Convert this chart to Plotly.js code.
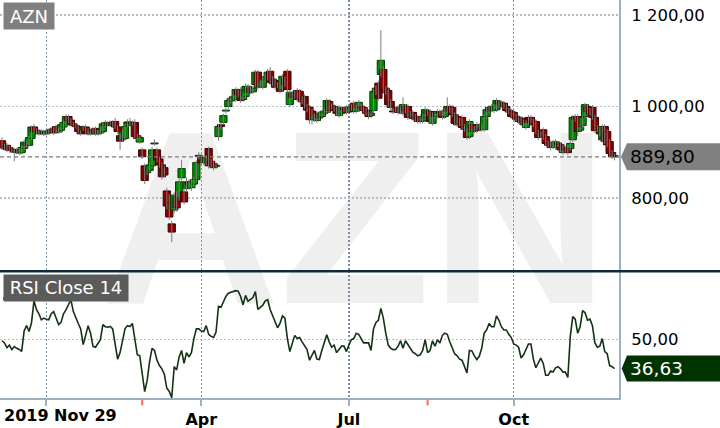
<!DOCTYPE html>
<html><head><meta charset="utf-8">
<script src="https://cdn.plot.ly/plotly-3.0.1.min.js"></script>
<style>html,body{margin:0;padding:0;background:#fff}#chart{width:720px;height:428px}</style>
</head><body><div id="chart"></div>
<script>
const symbol = 'AZN';
const rsiLabel = 'RSI Close 14';
const tickIdx = [18, 81, 141, 208];
const tickLabels = ['2019 Nov 29', 'Apr', 'Jul', 'Oct'];
const priceTicks = [800, 1000, 1200];
const rsiTicks = [50];
const dividendIdx = [57, 173];

const openP = [
925,913,915,910,906,904,900,905,899,908,
920,915,930,955,948,944,941,945,940,946,
944,952,956,944,948,955,960,978,970,962,
958,956,944,950,955,948,940,950,952,940,
942,945,958,964,960,966,967,955,936,928,
930,958,966,962,965,936,922,905,870,855,
860,870,918,905,885,872,866,815,789,743,
773,802,800,844,813,820,835,822,830,840,
891,888,878,877,908,880,875,869,934,960,
965,990,1000,1012,1018,1015,1035,1037,1015,1022,
1030,1040,1032,1048,1075,1045,1042,1058,1062,1077,
1060,1057,1048,1055,1037,1060,1077,1004,1028,1022,
1035,1033,1018,1022,1000,998,990,972,969,985,
978,985,987,1011,998,1000,995,980,985,996,
998,988,995,1007,990,996,1000,998,992,989,
980,991,1030,1051,1070,1081,1040,1035,1011,990,
992,998,988,985,1000,1000,980,987,978,976,
978,968,976,990,989,963,980,978,988,989,
978,991,1000,998,982,978,962,976,956,949,
934,960,946,960,952,955,949,978,990,1000,
991,993,1010,1002,1007,1000,992,989,987,978,
976,974,966,954,976,976,968,967,943,936,
949,934,920,921,912,910,920,916,899,908,
910,908,927,978,978,948,958,978,1000,992,
998,976,954,950,927,956,945,923,899,892];

const highP = [
932,918,920,914,911,908,910,909,914,928,
924,936,958,962,952,948,950,949,951,950,
955,956,960,954,964,969,983,982,974,966,
962,960,948,959,960,952,950,954,956,948,
954,966,970,968,969,970,975,959,940,950,
960,972,975,969,972,940,936,910,875,862,
878,912,928,910,890,877,870,822,808,750,
812,815,842,883,822,845,840,842,846,882,
900,895,887,893,912,885,880,876,960,966,
984,998,1018,1023,1027,1042,1040,1042,1030,1050,
1049,1046,1045,1080,1080,1056,1065,1070,1082,1086,
1066,1062,1053,1060,1071,1065,1082,1036,1033,1035,
1040,1038,1023,1027,1005,1003,995,985,990,990,
992,995,1018,1016,1007,1005,1000,1003,1000,1001,
1003,1000,1005,1012,1003,1014,1005,1003,997,994,
990,1038,1046,1056,1167,1088,1045,1040,1016,995,
1000,1003,998,1020,1005,1005,990,992,983,981,
983,980,998,995,994,987,985,994,993,994,
995,1020,1005,1003,987,983,975,981,961,954,
972,965,957,965,963,960,983,998,1003,1005,
1005,1018,1015,1013,1012,1005,997,994,992,983,
981,979,971,970,981,981,973,972,948,945,
954,939,925,926,926,928,925,921,915,913,
915,924,981,983,983,960,981,1008,1005,997,
1003,981,959,955,961,961,950,928,904,896];

const lowP = [
905,903,900,899,900,880,895,893,895,904,
911,912,926,941,939,936,937,935,936,940,
940,938,940,940,944,951,956,963,957,954,
952,941,936,946,941,936,936,940,936,936,
938,941,954,956,956,954,951,940,905,924,
926,954,958,958,930,925,918,885,830,850,
856,866,914,878,866,840,844,775,752,703,
766,770,794,838,785,812,820,815,824,835,
884,870,872,871,864,866,860,864,925,950,
960,984,995,1007,1013,1010,1020,1008,1010,1017,
1025,1027,1027,1043,1037,1040,1037,1053,1057,1048,
1045,1037,1040,1028,1032,1043,1030,998,1015,1017,
1010,1010,1005,995,987,962,960,966,964,970,
973,980,982,986,993,989,980,975,980,987,
982,983,990,984,985,991,991,986,980,972,
975,986,1025,1013,1065,1030,1025,999,993,983,
987,982,983,980,985,970,975,969,967,962,
962,963,971,980,962,958,973,973,980,971,
973,986,986,977,958,955,957,949,945,927,
929,940,941,942,947,945,944,973,985,987,
986,988,1000,997,995,986,983,973,971,967,
962,960,955,949,960,962,955,940,927,931,
927,914,910,904,907,905,911,900,894,899,
894,903,922,967,935,943,953,973,984,980,
971,942,944,935,922,918,911,892,885,882];

const closeP = [
912,908,906,904,905,900,905,898,910,922,
915,932,955,945,944,940,946,940,946,944,
950,942,944,950,960,965,978,968,962,958,
956,945,940,955,945,940,946,944,940,944,
950,962,965,960,964,958,955,945,924,945,
956,966,962,965,934,930,932,890,838,858,
872,905,920,883,872,846,850,782,758,725,
806,778,835,864,791,835,828,836,840,877,
893,877,882,888,870,872,866,871,956,956,
980,992,1013,1018,1022,1037,1025,1013,1025,1044,
1044,1032,1040,1075,1042,1050,1060,1065,1075,1053,
1050,1042,1045,1033,1066,1048,1037,1031,1020,1030,
1015,1015,1010,1000,992,971,971,980,985,975,
987,990,1013,991,1002,994,985,998,995,992,
987,995,1000,989,998,1009,996,991,985,978,
985,1033,1040,1018,1101,1035,1030,1004,998,988,
995,987,993,1004,990,976,985,974,972,967,
967,975,993,985,967,982,978,989,985,976,
990,1000,991,982,963,960,970,954,950,932,
967,945,952,947,958,950,978,993,998,992,
1000,1013,1005,1008,1000,991,988,978,976,972,
967,965,960,965,965,967,960,945,932,940,
932,919,915,910,921,923,916,905,910,904,
899,919,976,972,945,955,976,1004,989,985,
976,947,949,940,956,923,916,897,890,889.8];

const rsi = [
49.5,48.5,46.3,47.5,45.4,46.8,46.0,45.5,44.6,54,
56.5,53.8,57.8,68,64,62,59.2,60,59.5,59.2,
62,63,60,57,58,62,63.8,66.5,68.5,63,
60,57.5,55,47.7,52,56.5,53,46.9,46.5,48,
50,57,56,55.8,56.1,55,47,41,44,50,
55,56.5,56.1,57.5,50,43,42.5,34,26,31,
40,46,45,40.5,38,36.5,34,27.5,26,23.1,
37.5,36,42,45,39,44,42,44,50.5,55,
55,54,53.8,56.5,52.5,51.5,51,53.5,65.4,65,
67.5,70,71.5,72,72.3,72.7,72.5,70,66.1,70.5,
67.8,68.5,69.5,72.3,64,65,66,68,68.5,64,
61,58,55.5,57.5,61,60,50.5,44.5,48,52,
50.5,51,49,47,45.4,40.5,43,45,41,40.8,
45,49,52.3,49,46.5,47.5,44,45.5,47,47,
44.5,47.5,50,50.5,53,52.5,50.5,48.5,48.5,48.5,
45,55,58,59,64.5,60,53,47.5,46,45.4,
45.5,47,49.5,46,49.5,47.5,45.5,44.2,43.5,42.5,
43,45,50,44,45,49.5,47,50,48.5,52,
53,52.5,49,46.5,43.5,42.5,41,40.5,37,34.6,
45,44.8,42.5,40.8,42.3,46,53,54.5,57.5,56,
56,61,59,56,54.5,54.5,52.5,51,48,47.5,
46.5,41.5,43,45.5,48,48,41,37,39,41.5,
39,33.5,33.5,35.5,35,37,37.5,36.5,35,35,
32.5,51.5,60.7,59.5,53,56,63.5,62.5,59,59.5,
56.5,48.5,46.5,47,50.5,44.5,43.5,38,37.5,36.63];

// ---- build traces ----
const n = closeP.length;
const idx = Array.from({length: n}, (_, i) => i);
const isUp = idx.map(i => closeP[i] >= openP[i]);
const wickX = [], wickY = [];
idx.forEach(i => { wickX.push(i, i, null); wickY.push(lowP[i], highP[i], null); });
const bodyBase = idx.map(i => Math.min(openP[i], closeP[i]));
const bodyH = idx.map(i => Math.max(Math.abs(closeP[i] - openP[i]), 1.5));

const W = 720, H = 428;
const axisX = 619 / W;
const px = v => v / W;
const py = v => 1 - v / H;
const lastClose = closeP[n - 1];
const lastRsi = rsi[n - 1];
const fmt = v => v.toFixed(2).replace('.', ',');

const traces = [
  {type: 'scatter', mode: 'lines', x: wickX, y: wickY, xaxis: 'x', yaxis: 'y',
   line: {color: '#7d7d7d', width: 1}, hoverinfo: 'skip', connectgaps: false},
  {type: 'bar', x: idx, y: bodyH, base: bodyBase, width: 2.95, xaxis: 'x', yaxis: 'y',
   marker: {color: isUp.map(u => u ? '#008a00' : '#870000'),
            line: {color: isUp.map(u => u ? '#003d00' : '#3d0000'), width: 1}},
   hoverinfo: 'skip'},
  {type: 'scatter', mode: 'lines', x: idx, y: rsi, xaxis: 'x', yaxis: 'y2',
   line: {color: '#143214', width: 1.6}, hoverinfo: 'skip'}
];

const gridV = '#7d91a5', gridH = '#b3bec9', axisC = '#9db0c3';
const layout = {
  width: W, height: H, margin: {l: 0, r: 0, t: 0, b: 0, pad: 0},
  paper_bgcolor: '#ffffff', plot_bgcolor: 'rgba(0,0,0,0)',
  separators: ', ', showlegend: false, barmode: 'overlay', hovermode: false,
  font: {family: 'DejaVu Sans', color: '#000'},
  xaxis: {domain: [0, axisX], anchor: 'y2', range: [-0.81, 250.8],
    tickvals: tickIdx, ticktext: tickLabels.map((t, k) => k === 0 ? '' : t),
    tickfont: {family: 'DejaVu Sans', size: 16, weight: 'bold', color: '#000'},
    ticks: 'outside', ticklen: 6, tickwidth: 2, tickcolor: axisC,
    showgrid: true, gridcolor: gridV, griddash: '2px,2px', gridwidth: 1.5,
    showline: true, linecolor: axisC, linewidth: 2, zeroline: false, fixedrange: true},
  yaxis: {domain: [py(270), 1], anchor: 'x', side: 'right', range: [642, 1233],
    tickvals: priceTicks, tickformat: ',.2f', tickfont: {size: 16.5, color: '#000'},
    ticks: '', ticklabelstandoff: 7,
    showgrid: true, gridcolor: gridH, griddash: '2px,2px', gridwidth: 1.5,
    showline: true, linecolor: axisC, linewidth: 2, zeroline: false, fixedrange: true},
  yaxis2: {domain: [py(398), py(271)], anchor: 'x', side: 'right', range: [23, 81.8],
    tickvals: rsiTicks, tickformat: ',.2f', tickfont: {size: 16.5, color: '#000'},
    ticks: '', ticklabelstandoff: 7,
    showgrid: true, gridcolor: gridH, griddash: '2px,2px', gridwidth: 1.5,
    showline: true, linecolor: axisC, linewidth: 2, zeroline: false, fixedrange: true},
  shapes: [
    {type: 'rect', layer: 'below', xref: 'paper', yref: 'paper',
     x0: px(105), x1: px(605), y0: py(284), y1: py(104),
     line: {width: 0}, fillcolor: 'rgba(0,0,0,0)',
     label: {text: symbol, textposition: 'middle center',
             font: {family: 'Liberation Sans', size: 247, weight: 'bold', color: '#efefef'}}},
    {type: 'line', xref: 'paper', yref: 'paper', x0: 0, x1: 1, y0: py(271.2), y1: py(271.2),
     line: {color: '#0e2b3b', width: 2.5}},
    {type: 'line', xref: 'paper', yref: 'y', x0: 0, x1: axisX, y0: lastClose, y1: lastClose,
     line: {color: '#7a7a7a', width: 1.2, dash: '4px,3px'}},
    {type: 'path', xref: 'paper', yref: 'y', xsizemode: 'pixel', ysizemode: 'pixel',
     xanchor: axisX, yanchor: lastClose,
     path: 'M 2 0 L 8 13.5 L 101 13.5 L 101 -13.5 L 8 -13.5 Z',
     fillcolor: '#808080', line: {width: 0}},
    {type: 'path', xref: 'paper', yref: 'y2', xsizemode: 'pixel', ysizemode: 'pixel',
     xanchor: axisX, yanchor: lastRsi,
     path: 'M 2.7 0 L 8 13 L 101 13 L 101 -13 L 8 -13 Z',
     fillcolor: '#003300', line: {width: 0}},
    {type: 'rect', xref: 'paper', yref: 'paper', x0: px(3), x1: px(127), y0: py(299.5), y1: py(297.2),
     fillcolor: '#173817', line: {width: 0}}
  ].concat(dividendIdx.map(d => ({type: 'line', xref: 'x', yref: 'paper', x0: d, x1: d,
     y0: py(405.5), y1: py(399.5), line: {color: '#ff6b6b', width: 2}}))),
  annotations: [
    {xref: 'paper', yref: 'paper', x: px(3), y: py(2), xanchor: 'left', yanchor: 'top',
     text: symbol, showarrow: false, bgcolor: '#808080', width: 44, height: 20, borderpad: 3,
     font: {family: 'DejaVu Sans', size: 18, color: '#ffffff'}},
    {xref: 'paper', yref: 'paper', x: px(3), y: py(274), xanchor: 'left', yanchor: 'top',
     text: rsiLabel, showarrow: false, bgcolor: '#5b5b5b', width: 118, height: 19.5, borderpad: 3,
     font: {family: 'DejaVu Sans', size: 18, color: '#ffffff'}},
    {xref: 'paper', yref: 'y', x: px(628), y: lastClose, xanchor: 'left', yanchor: 'middle',
     text: fmt(lastClose), showarrow: false,
     font: {family: 'DejaVu Sans', size: 18.5, color: '#000000'}},
    {xref: 'paper', yref: 'y2', x: px(628), y: lastRsi, xanchor: 'left', yanchor: 'middle',
     text: fmt(lastRsi), showarrow: false,
     font: {family: 'DejaVu Sans', size: 18.5, color: '#ffffff'}},
    {xref: 'paper', yref: 'paper', x: px(2), y: py(415), xanchor: 'left', yanchor: 'middle',
     text: tickLabels[0], showarrow: false,
     font: {family: 'DejaVu Sans', size: 16, weight: 'bold', color: '#000000'}}
  ]
};

Plotly.newPlot('chart', traces, layout, {staticPlot: true, displayModeBar: false});
</script>
</body></html>
